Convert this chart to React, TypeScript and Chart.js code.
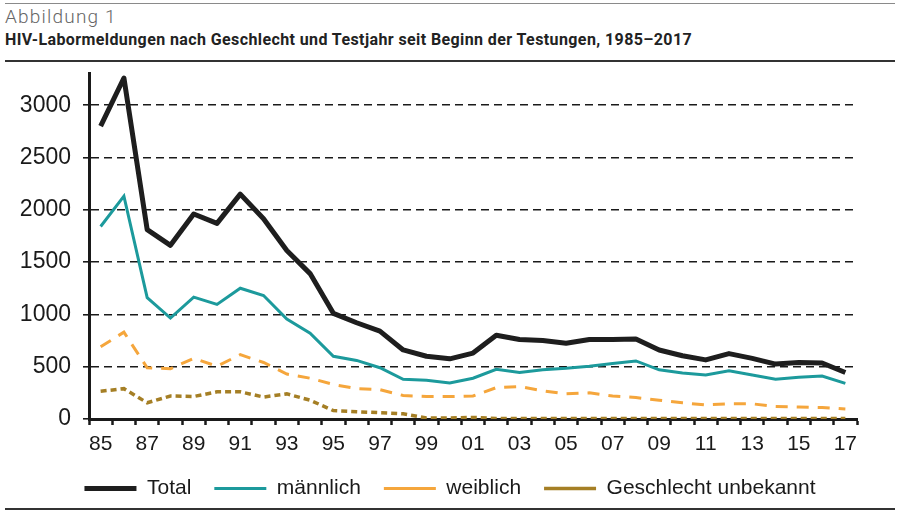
import React, { useEffect, useRef } from "react";
import { Chart, registerables } from "chart.js";

Chart.register(...registerables);

const years = [
  "85", "86", "87", "88", "89", "90", "91", "92", "93", "94", "95", "96", "97", "98", "99", "00",
  "01", "02", "03", "04", "05", "06", "07", "08", "09", "10", "11", "12", "13", "14", "15", "16", "17",
];

const total = [
  2800, 3260, 1810, 1660, 1960, 1870, 2150, 1915, 1610, 1390, 1010, 920, 840, 660, 600, 575,
  630, 800, 760, 750, 725, 760, 760, 765, 660, 605, 565, 625, 580, 525, 540, 535, 445,
];

const maennlich = [
  1840, 2130, 1160, 965, 1165, 1095, 1250, 1180, 955, 820, 600, 560, 490, 380, 370, 345,
  390, 475, 445, 470, 485, 505, 530, 555, 470, 440, 420, 460, 420, 380, 400, 410, 340,
];

const weiblich = [
  690, 830, 490, 480, 580, 505, 615, 540, 430, 390, 330, 290, 280, 225, 215, 215,
  220, 300, 310, 270, 240, 250, 220, 205, 180, 155, 135, 145, 145, 120, 115, 110, 95,
];

const unbekannt = [
  265, 290, 155, 220, 215, 260, 260, 210, 240, 180, 80, 70, 60, 50, 10, 10,
  15, 5, 5, 5, 5, 5, 5, 5, 5, 5, 5, 5, 5, 5, 5, 5, 5,
];

const seriesNames = ["Total", "männlich", "weiblich", "Geschlecht unbekannt"];
const yTicks = [0, 500, 1000, 1500, 2000, 2500, 3000];

const FONT = "Liberation Sans, Arial, sans-serif";

export default function App() {
  const ref = useRef<HTMLCanvasElement | null>(null);

  useEffect(() => {
    if (!ref.current) return;
    const chart = new Chart(ref.current, {
      type: "line",
      data: {
        labels: years,
        datasets: [
          {
            label: seriesNames[0],
            data: total,
            borderColor: "#1e1e1e",
            backgroundColor: "#1e1e1e",
            borderWidth: 5,
            pointRadius: 0,
            tension: 0,
            borderJoinStyle: "round",
          },
          {
            label: seriesNames[1],
            data: maennlich,
            borderColor: "#1c9a9c",
            backgroundColor: "#1c9a9c",
            borderWidth: 3,
            pointRadius: 0,
            tension: 0,
          },
          {
            label: seriesNames[2],
            data: weiblich,
            borderColor: "#f5a63c",
            backgroundColor: "#f5a63c",
            borderWidth: 3,
            borderDash: [12, 9],
            pointRadius: 0,
            tension: 0,
          },
          {
            label: seriesNames[3],
            data: unbekannt,
            borderColor: "#a57f25",
            backgroundColor: "#a57f25",
            borderWidth: 3.5,
            borderDash: [6, 4],
            pointRadius: 0,
            tension: 0,
          },
        ],
      },
      options: {
        animation: false,
        responsive: false,
        maintainAspectRatio: false,
        layout: { padding: { top: 0, left: 0, right: 0, bottom: 0 } },
        plugins: {
          tooltip: { enabled: false },
          legend: {
            display: true,
            position: "bottom",
            labels: {
              usePointStyle: true,
              pointStyle: "line",
              pointStyleWidth: 52,
              boxHeight: 21,
              padding: 23,
              color: "#1a1a1a",
              font: { family: FONT, size: 21 },
            },
          },
        },
        scales: {
          x: {
            type: "category",
            offset: true,
            grid: {
              display: true,
              offset: true,
              drawOnChartArea: false,
              drawTicks: true,
              tickLength: 6,
              tickWidth: 2.5,
              tickColor: "#1a1a1a",
            },
            border: { display: true, color: "#1a1a1a", width: 3 },
            ticks: {
              autoSkip: false,
              maxRotation: 0,
              minRotation: 0,
              padding: 7,
              color: "#1a1a1a",
              font: { family: FONT, size: 21 },
              callback: (_v: any, i: number) => (i % 2 === 0 ? years[i] : ""),
            },
            afterFit: (s: any) => {
              s.height = 36;
            },
          },
          y: {
            min: 0,
            max: 3300,
            afterBuildTicks: (s: any) => {
              s.ticks = yTicks.map((v) => ({ value: v }));
            },
            grid: {
              display: true,
              color: (ctx: any) => (ctx.tick && ctx.tick.value === 0 ? "rgba(0,0,0,0)" : "#1a1a1a"),
              lineWidth: 1.6,
              drawTicks: true,
              tickLength: 6,
              tickColor: "#1a1a1a",
              tickWidth: 1.6,
            },
            border: { display: true, color: "#1a1a1a", width: 3, dash: [8, 5] },
            ticks: {
              padding: 12,
              color: "#1a1a1a",
              font: { family: FONT, size: 23 },
              callback: (v: any) => String(v),
            },
            afterFit: (s: any) => {
              s.width = 89;
            },
          },
          yRight: {
            type: "linear",
            position: "right",
            display: true,
            min: 0,
            max: 1,
            grid: { display: false, drawTicks: false },
            border: { display: false },
            ticks: { display: false },
            afterFit: (s: any) => {
              s.width = 43;
            },
          },
        },
      },
    });
    return () => chart.destroy();
  }, []);

  return (
    <div style={{ position: "absolute", left: 0, top: 0, width: 900, height: 511, background: "#fff", overflow: "hidden" }}>
      <div style={{ position: "absolute", left: 5, top: 3, width: 890, height: 1, background: "#8a8a8a" }} />
      <div
        style={{
          position: "absolute",
          left: 5,
          top: 6,
          fontFamily: "Roboto, sans-serif",
          fontWeight: 300,
          fontSize: 19,
          letterSpacing: 1.2,
          color: "#666",
          lineHeight: "22px",
          whiteSpace: "nowrap",
        }}
      >
        Abbildung 1
      </div>
      <div
        style={{
          position: "absolute",
          left: 5,
          top: 30,
          fontFamily: "Roboto, sans-serif",
          fontWeight: 700,
          fontSize: 16,
          letterSpacing: 0.4,
          color: "#222",
          lineHeight: "20px",
          whiteSpace: "nowrap",
        }}
      >
        HIV-Labormeldungen nach Geschlecht und Testjahr seit Beginn der Testungen, 1985–2017
      </div>
      <canvas ref={ref} width={900} height={461} style={{ position: "absolute", left: 0, top: 48, width: 900, height: 461 }} />
      <div style={{ position: "absolute", left: 5, top: 60, width: 890, height: 2, background: "#333" }} />
      <div style={{ position: "absolute", left: 5, top: 508, width: 890, height: 2, background: "#333" }} />
    </div>
  );
}
